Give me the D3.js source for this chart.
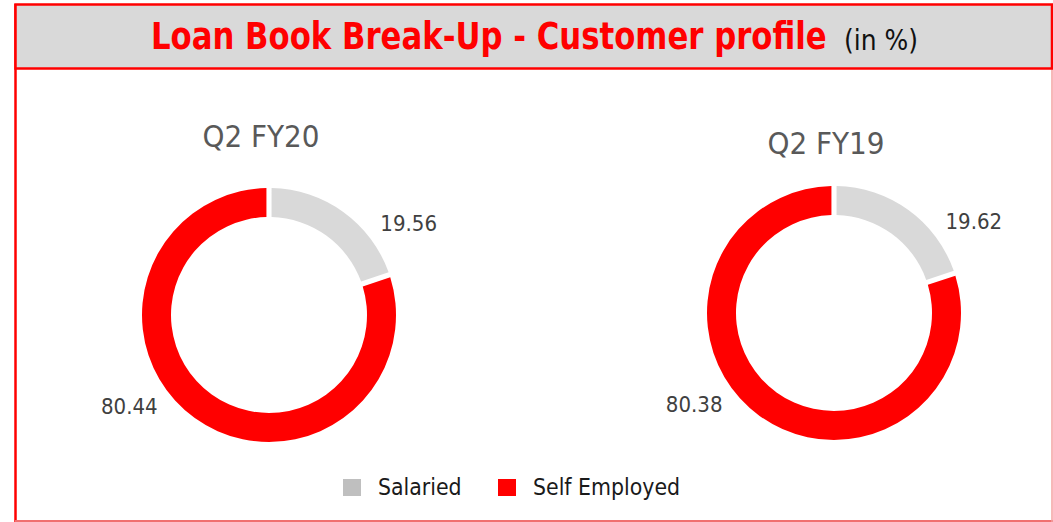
<!DOCTYPE html>
<html>
<head>
<meta charset="utf-8">
<script src="https://cdn.jsdelivr.net/npm/d3@7"></script>
<style>
  html, body { margin: 0; padding: 0; background: #fff; }
  svg { display: block; }
  text { font-family: "DejaVu Sans Condensed", "DejaVu Sans", sans-serif; }
</style>
</head>
<body>
<svg id="chart" width="1053" height="522"></svg>
<script>
const titleMain = "Loan Book Break-Up - Customer profile";
const titleUnit = "(in %)";
const categories = ["Salaried", "Self Employed"];
const periods = ["Q2 FY20", "Q2 FY19"];
const salaried = [19.56, 19.62];
const selfEmployed = [80.44, 80.38];
const colors = ["#d9d9d9", "#ff0000"];
const legendColors = ["#bfbfbf", "#ff0000"];

const svg = d3.select("#chart");

// frame
svg.append("line").attr("x1", 15.5).attr("y1", 4).attr("x2", 15.5).attr("y2", 522)
  .attr("stroke", "#ff0000").attr("stroke-width", 2.5);
svg.append("line").attr("x1", 15).attr("y1", 521).attr("x2", 1053).attr("y2", 521)
  .attr("stroke", "#f07070").attr("stroke-width", 2);
svg.append("line").attr("x1", 1052).attr("y1", 4).attr("x2", 1052).attr("y2", 522)
  .attr("stroke", "#f4a0a0").attr("stroke-width", 1.5);

// header
svg.append("rect").attr("x", 15.5).attr("y", 4.5).attr("width", 1036.5).attr("height", 64)
  .attr("fill", "#d9d9d9").attr("stroke", "#ff0000").attr("stroke-width", 2.5);

// text squeezed horizontally to a target width, keeping the font height
function squeezeText(sel, x, y, size, target) {
  sel.attr("font-size", size).attr("x", 0).attr("y", 0);
  const len = sel.node().getComputedTextLength();
  const sx = Math.min(1, target / len);
  sel.attr("transform", `translate(${x},${y}) scale(${sx},1)`);
}

const t1 = svg.append("text")
  .attr("font-weight", "bold").attr("fill", "#ff0000")
  .text(titleMain);
squeezeText(t1, 151, 49, 36.5, 676);
const t2 = svg.append("text")
  .attr("fill", "#111")
  .text(titleUnit);
squeezeText(t2, 844, 50, 28, 74);

// donuts
const centers = [{x: 269, y: 315}, {x: 834, y: 313}];
const titleY = [147, 154];
const rOuter = 127, rInner = 98;

const pie = d3.pie().sort(null).value(d => d.value).padAngle(0.032);
const arc = d3.arc().innerRadius(rInner).outerRadius(rOuter);
const labelRadius = 167;
const labelShift = 21 * Math.PI / 180;

periods.forEach((p, i) => {
  const data = [
    {cat: categories[0], value: salaried[i]},
    {cat: categories[1], value: selfEmployed[i]}
  ];
  const g = svg.append("g").attr("transform", `translate(${centers[i].x},${centers[i].y})`);
  const arcs = pie(data);
  g.selectAll("path").data(arcs).join("path")
    .attr("d", arc)
    .attr("fill", (d, j) => colors[j]);

  g.selectAll("text.lbl").data(arcs).join("text")
    .attr("class", "lbl")
    .attr("x", d => {
      const a = (d.startAngle + d.endAngle) / 2 + labelShift;
      return Math.sin(a) * labelRadius;
    })
    .attr("y", d => {
      const a = (d.startAngle + d.endAngle) / 2 + labelShift;
      return -Math.cos(a) * labelRadius;
    })
    .attr("dy", "0.35em")
    .attr("text-anchor", "middle")
    .attr("font-size", 22)
    .attr("fill", "#404040")
    .text(d => d.data.value.toFixed(2));

  svg.append("text")
    .attr("x", centers[i].x - 8).attr("y", titleY[i])
    .attr("text-anchor", "middle")
    .attr("font-size", 31)
    .attr("fill", "#595959")
    .text(p);
});

// legend
const legendX = [343, 498];
const lg = svg.append("g");
categories.forEach((c, i) => {
  lg.append("rect").attr("x", legendX[i]).attr("y", 479).attr("width", 18).attr("height", 17)
    .attr("fill", legendColors[i]);
  lg.append("text").attr("x", legendX[i] + 35).attr("y", 495)
    .attr("font-size", 22.8).attr("fill", "#1a1a1a")
    .text(c);
});
</script>
</body>
</html>
